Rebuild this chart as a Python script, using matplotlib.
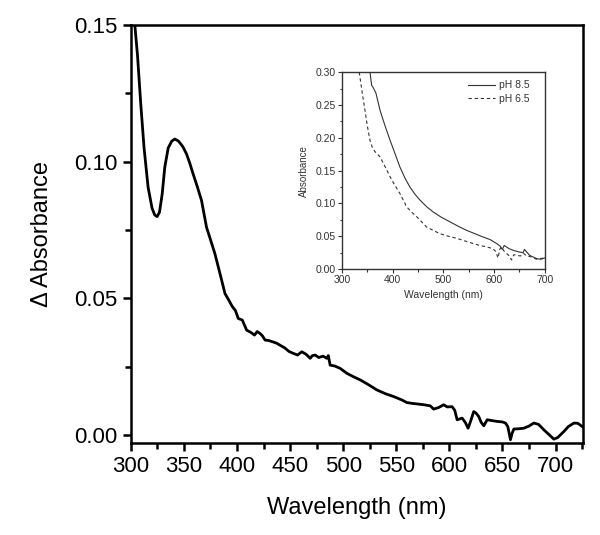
import numpy as np
import matplotlib
matplotlib.use('Agg')
import matplotlib.pyplot as plt
from matplotlib.ticker import MultipleLocator

plt.rcParams['font.family'] = ['Liberation Sans', 'DejaVu Sans']

# difference spectrum (main panel)
wl_diff = [303.8, 306.3, 309.4, 312.5, 316.3, 320.0, 322.5, 324.8, 327.0, 329.5, 332.0,
           335.2, 338.5, 341.5, 345.0, 349.0, 352.5, 355.5, 358.7, 362.5, 366.6, 371.3,
           375.0, 379.2, 384.0, 388.7, 392.0, 395.5, 398.5, 401.2, 405.0, 409.1, 413.0,
           416.5, 419.0, 421.7, 424.0, 426.4, 430.0, 434.0, 437.5, 440.6, 445.0, 449.0,
           453.1, 457.0, 461.0, 465.0, 468.9, 471.0, 473.6, 477.0, 481.0, 484.6, 486.0,
           487.7, 492.0, 497.2, 503.5, 510.0, 516.0, 524.0, 531.8, 540.0, 547.5, 555.0,
           560.0, 565.0, 569.5, 576.0, 582.0, 585.2, 590.0, 594.6, 598.0, 602.5, 605.0,
           607.3, 612.0, 615.0, 617.6, 620.0, 622.9, 625.0, 627.6, 630.0, 632.4, 635.6,
           640.0, 645.0, 650.0, 652.8, 655.0, 657.5, 659.0, 660.7, 665.0, 670.0, 675.0,
           679.5, 684.0, 689.0, 694.0, 698.4, 702.0, 707.8, 712.0, 717.3, 721.0, 725.2]
dA = [0.1500, 0.1390, 0.1210, 0.1050, 0.0906, 0.0830, 0.0805, 0.0799, 0.0815, 0.0880, 0.0980,
      0.1050, 0.1075, 0.1083, 0.1075, 0.1055, 0.1028, 0.0995, 0.0955, 0.0910, 0.0858, 0.0760,
      0.0715, 0.0663, 0.0590, 0.0517, 0.0495, 0.0470, 0.0455, 0.0426, 0.0420, 0.0383, 0.0375,
      0.0365, 0.0378, 0.0371, 0.0362, 0.0347, 0.0345, 0.0340, 0.0335, 0.0328, 0.0318, 0.0305,
      0.0298, 0.0292, 0.0304, 0.0295, 0.0280, 0.0290, 0.0292, 0.0283, 0.0288, 0.0280, 0.0290,
      0.0255, 0.0252, 0.0243, 0.0225, 0.0212, 0.0201, 0.0183, 0.0164, 0.0150, 0.0140, 0.0128,
      0.0118, 0.0115, 0.0113, 0.0110, 0.0106, 0.0094, 0.0100, 0.0110, 0.0102, 0.0103, 0.0090,
      0.0055, 0.0061, 0.0045, 0.0024, 0.0050, 0.0085, 0.0080, 0.0067, 0.0045, 0.0033, 0.0055,
      0.0052, 0.0049, 0.0047, 0.0043, 0.0030, -0.0018, 0.0005, 0.0021, 0.0022, 0.0024, 0.0032,
      0.0043, 0.0038, 0.0018, 0.0000, -0.0016, -0.0010, 0.0012, 0.0030, 0.0043, 0.0042, 0.0030]

# inset spectra
wl_85 = [355.2, 358.5, 362.0, 367.0, 371.0, 375.0, 385.0, 395.0, 405.0, 414.0, 424.0, 434.0,
         444.0, 454.0, 467.0, 480.0, 496.0, 513.0, 530.0, 546.0, 562.0, 578.0, 592.0, 605.0,
         612.0, 616.0, 620.0, 630.0, 640.0, 650.0, 657.0, 660.0, 670.0, 684.0, 692.0, 700.0]
abs_85 = [0.300, 0.280, 0.276, 0.268, 0.255, 0.242, 0.218, 0.196, 0.175, 0.156, 0.139, 0.125,
          0.114, 0.105, 0.095, 0.087, 0.079, 0.072, 0.065, 0.059, 0.054, 0.049, 0.045, 0.039,
          0.035, 0.030, 0.036, 0.031, 0.028, 0.026, 0.025, 0.030, 0.021, 0.016, 0.015, 0.017]
wl_65 = [334.0, 340.0, 345.3, 350.0, 355.2, 360.0, 365.0, 370.0, 375.0, 385.0, 394.6, 404.0,
         414.3, 427.5, 437.0, 447.2, 457.0, 467.0, 480.0, 493.0, 510.0, 526.0, 542.0, 558.7,
         572.0, 585.0, 598.0, 603.0, 607.9, 611.0, 614.5, 619.0, 624.5, 630.0, 634.3, 639.0,
         644.2, 652.0, 658.0, 664.0, 672.0, 683.6, 690.0, 700.0]
abs_65 = [0.300, 0.268, 0.242, 0.218, 0.196, 0.185, 0.179, 0.175, 0.171, 0.156, 0.141, 0.128,
          0.115, 0.095, 0.087, 0.080, 0.072, 0.064, 0.059, 0.054, 0.050, 0.047, 0.043, 0.039,
          0.036, 0.034, 0.031, 0.027, 0.017, 0.030, 0.034, 0.028, 0.024, 0.020, 0.014, 0.022,
          0.021, 0.020, 0.024, 0.020, 0.019, 0.015, 0.016, 0.017]

fig = plt.figure(figsize=(6.0, 5.35), dpi=100)
ax = fig.add_axes([0.218, 0.172, 0.754, 0.781])
ax.plot(wl_diff, dA, color='black', lw=2.0)
ax.set_xlim(300, 726)
ax.set_ylim(-0.003, 0.15)
ax.xaxis.set_major_locator(MultipleLocator(50))
ax.xaxis.set_minor_locator(MultipleLocator(25))
ax.yaxis.set_major_locator(MultipleLocator(0.05))
ax.yaxis.set_minor_locator(MultipleLocator(0.025))
ax.yaxis.set_major_formatter(matplotlib.ticker.FormatStrFormatter('%.2f'))
for s in ax.spines.values():
    s.set_linewidth(1.8)
ax.tick_params(which='major', direction='out', length=6, width=1.8, labelsize=16)
ax.tick_params(which='minor', direction='out', length=4, width=1.8)
ax.set_xlabel('Wavelength (nm)', fontsize=17, labelpad=14)
ax.set_ylabel('\u0394 Absorbance', fontsize=17, labelpad=15)

# inset
grey = '#333333'
ins = fig.add_axes([0.570, 0.497, 0.338, 0.368])
ins.plot(wl_85, abs_85, color=grey, lw=0.8, label='pH 8.5')
ins.plot(wl_65, abs_65, color=grey, lw=0.8, ls=(0, (3, 2.5)), label='pH 6.5')
ins.set_xlim(300, 700)
ins.set_ylim(0, 0.30)
ins.xaxis.set_major_locator(MultipleLocator(100))
ins.xaxis.set_minor_locator(MultipleLocator(50))
ins.yaxis.set_major_locator(MultipleLocator(0.05))
ins.yaxis.set_minor_locator(MultipleLocator(0.025))
ins.yaxis.set_major_formatter(matplotlib.ticker.FormatStrFormatter('%.2f'))
for s in ins.spines.values():
    s.set_linewidth(1.0)
    s.set_color(grey)
ins.tick_params(which='major', direction='out', length=3, width=0.8, labelsize=7.5,
                colors=grey, pad=1.5)
ins.tick_params(which='minor', direction='out', length=1.8, width=0.8, colors=grey)
ins.set_xlabel('Wavelength (nm)', fontsize=7.5, color=grey, labelpad=3)
ins.set_ylabel('Absorbance', fontsize=7, color=grey, labelpad=5)
ins.legend(loc='upper right', bbox_to_anchor=(0.935, 0.97), frameon=False,
           fontsize=7.5, handlelength=2.6, handletextpad=0.4, labelspacing=0.35,
           borderaxespad=0, borderpad=0.2, labelcolor=grey)

fig.savefig('out.png', dpi=100)
